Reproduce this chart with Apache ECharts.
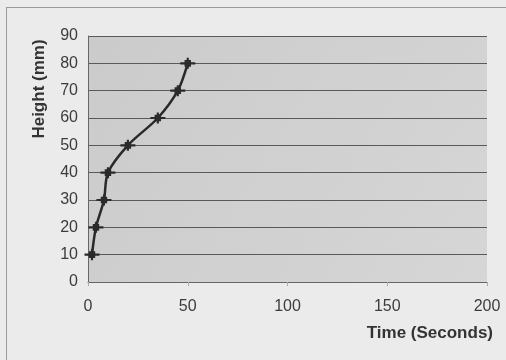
<!DOCTYPE html>
<html>
<head>
<meta charset="utf-8">
<script src="https://cdn.jsdelivr.net/npm/echarts@6/dist/echarts.min.js"></script>
<style>
  html, body { margin: 0; padding: 0; background: #ebebeb; }
  #chart { width: 506px; height: 360px; }
</style>
</head>
<body>
<div id="chart"></div>
<script>
// time in seconds vs. height in mm
const timeSec = [2, 4, 8, 10, 20, 35, 45, 50]
const heightMm = [10, 20, 30, 40, 50, 60, 70, 80]
const xTicks = [0, 50, 100, 150, 200]
const yTicks = [0, 10, 20, 30, 40, 50, 60, 70, 80, 90]

const points = timeSec.map((t, i) => [t, heightMm[i]])

const chart = echarts.init(document.getElementById('chart'))

const labelFont = {
  fontFamily: 'Liberation Sans, Arial, sans-serif',
  fontSize: 16,
  color: '#3c3c3c'
}

chart.setOption({
  backgroundColor: '#ebebeb',
  animation: false,
  graphic: [
    { type: 'line', shape: { x1: 6.5, y1: 7, x2: 6.5, y2: 360 }, style: { stroke: '#9a9a9a', lineWidth: 1 } },
    { type: 'line', shape: { x1: 6, y1: 7.5, x2: 506, y2: 7.5 }, style: { stroke: '#9a9a9a', lineWidth: 1 } }
  ],
  grid: {
    left: 88,
    right: 19,
    top: 36,
    bottom: 78,
    show: true,
    borderWidth: 0,
    backgroundColor: new echarts.graphic.LinearGradient(0, 0, 1, 1, [
      { offset: 0, color: '#cbcbcb' },
      { offset: 1, color: '#d6d6d6' }
    ])
  },
  xAxis: {
    type: 'value',
    min: xTicks[0],
    max: xTicks[xTicks.length - 1],
    interval: 50,
    name: 'Time (Seconds)',
    nameLocation: 'end',
    nameGap: 6,
    nameTextStyle: {
      fontFamily: 'Liberation Sans, Arial, sans-serif',
      fontSize: 17,
      fontWeight: 'bold',
      color: '#333',
      align: 'right',
      verticalAlign: 'top',
      padding: [43, 0, 0, 0]
    },
    axisLine: { show: true, lineStyle: { color: '#666', width: 1 } },
    axisTick: { show: true, length: 4, lineStyle: { color: '#aaa' } },
    axisLabel: { ...labelFont, margin: 17 },
    splitLine: { show: false }
  },
  yAxis: {
    type: 'value',
    min: yTicks[0],
    max: yTicks[yTicks.length - 1],
    interval: 10,
    name: 'Height (mm)',
    nameLocation: 'middle',
    nameGap: 40,
    nameRotate: 90,
    nameTextStyle: {
      fontFamily: 'Liberation Sans, Arial, sans-serif',
      fontSize: 17,
      fontWeight: 'bold',
      color: '#333',
      padding: [0, 0, 0, 140]
    },
    axisLine: { show: true, lineStyle: { color: '#666', width: 1 } },
    axisTick: { show: false },
    axisLabel: { ...labelFont, margin: 10 },
    splitLine: { show: true, lineStyle: { color: '#5a5a5a', width: 1 } }
  },
  series: [{
    type: 'line',
    data: points,
    smooth: 0.3,
    symbol: 'path://M6,0L8,0L8,2L10,2L10,4L14,4L14,6L10,6L10,8L8,8L8,10L6,10L6,8L4,8L4,6L0,6L0,4L4,4L4,2L6,2Z',
    symbolSize: [15, 11],
    itemStyle: { color: '#2a2a2a' },
    lineStyle: { color: '#2a2a2a', width: 2.5 }
  }]
})
</script>
</body>
</html>
